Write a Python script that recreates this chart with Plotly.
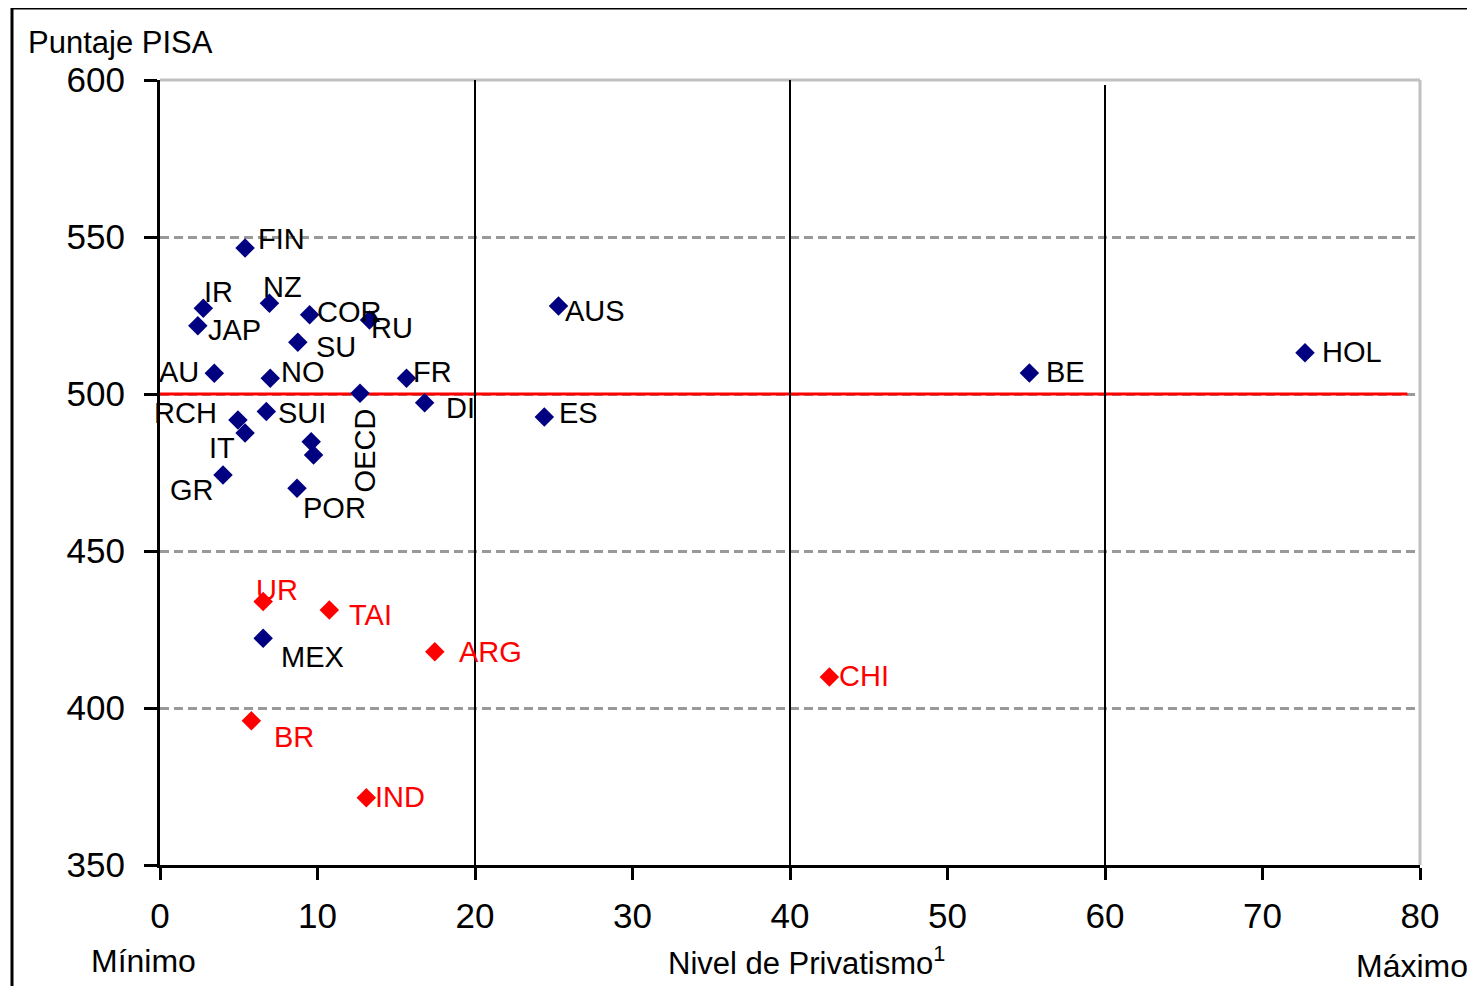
import plotly.graph_objects as go

# ---- data ----
blue_names = ["FIN", "IR", "NZ", "JAP", "COR", "RU", "SU", "AU", "NO", "FR", "OECD", "DI",
              "SUI", "RCH", "IT", "GR", "POR", "AUS", "ES", "BE", "HOL", "MEX", "", ""]
blue_x = [5.4, 2.75, 6.95, 2.4, 9.5, 13.3, 8.75, 3.45, 7.0, 15.65, 12.7, 16.8,
          6.75, 4.95, 5.4, 4.0, 8.7, 25.3, 24.4, 55.2, 72.7, 6.55, 9.6, 9.75]
blue_y = [546.5, 527.3, 528.9, 521.7, 525.2, 523.6, 516.5, 506.6, 505.0, 505.0, 500.2, 497.2,
          494.4, 491.7, 487.6, 474.2, 470.0, 528.0, 492.7, 506.7, 513.1, 422.2, 484.8, 480.6]

red_names = ["UR", "TAI", "ARG", "BR", "IND", "CHI"]
red_x = [6.55, 10.75, 17.45, 5.8, 13.1, 42.5]
red_y = [433.9, 431.2, 417.9, 395.9, 371.4, 409.9]

x_ticks = [0, 10, 20, 30, 40, 50, 60, 70, 80]
y_ticks = [350, 400, 450, 500, 550, 600]
divider_x = [20, 40, 60]
divider_top = [600, 600, 598.4]
reference_score = 500
reference_end = 79.2

# ---- label placement (xanchor, dx px, dy px down) ----
label_pos = {
    "FIN": ("left", 12, -9), "IR": ("center", 15, -16), "NZ": ("center", 13, -16),
    "JAP": ("left", 9, 4), "COR": ("left", 6, -3), "RU": ("left", 1, 8),
    "SU": ("left", 17, 5), "AU": ("right", -14, -1), "NO": ("left", 10, -6),
    "FR": ("left", 6, -6), "DI": ("left", 20, 5), "SUI": ("left", 11, 1),
    "RCH": ("right", -20, -7), "IT": ("center", -23, 15), "GR": ("right", -8, 15),
    "POR": ("left", 5, 20), "OECD": ("center", 5, 57), "AUS": ("left", 6, 5),
    "ES": ("left", 14, -4), "BE": ("left", 16, -1), "HOL": ("left", 16, -1),
    "MEX": ("left", 17, 19), "UR": ("left", -8, -12), "TAI": ("left", 19, 5),
    "ARG": ("left", 23, 0), "BR": ("left", 22, 16), "IND": ("left", 8, -1),
    "CHI": ("left", 9, -1),
}

FONT = "Liberation Sans, Arial, sans-serif"
NAVY = "#000080"
RED = "#FF0000"

fig = go.Figure()

# reference line at 500
fig.add_trace(go.Scatter(x=[0, reference_end], y=[reference_score, reference_score],
                         mode="lines", line=dict(color=RED, width=3),
                         hoverinfo="skip", showlegend=False))
# vertical dividers
for xv, top in zip(divider_x, divider_top):
    fig.add_trace(go.Scatter(x=[xv, xv], y=[350, top], mode="lines",
                             line=dict(color="black", width=2),
                             hoverinfo="skip", showlegend=False))

fig.add_trace(go.Scatter(x=blue_x, y=blue_y, mode="markers",
                         marker=dict(symbol="diamond", size=15, color=NAVY),
                         showlegend=False))
fig.add_trace(go.Scatter(x=red_x, y=red_y, mode="markers",
                         marker=dict(symbol="diamond", size=15, color=RED),
                         showlegend=False))

annotations = []
def add_labels(names, xs, ys, color):
    for n, xv, yv in zip(names, xs, ys):
        if not n:
            continue
        anc, dx, dy = label_pos[n]
        annotations.append(dict(
            x=xv, y=yv, xref="x", yref="y", text=n, showarrow=False,
            xanchor=anc, yanchor="middle", xshift=dx, yshift=-dy,
            textangle=-90 if n == "OECD" else 0, borderpad=0,
            font=dict(family=FONT, size=29, color=color)))

add_labels(blue_names, blue_x, blue_y, "black")
add_labels(red_names, red_x, red_y, RED)

# page offset (body margin of the html page)
OFF = 8
W, H = 1475 - OFF, 986 - OFF
L, R, T, B = 160 - OFF, 55, 80 - OFF, 121
pw, ph = W - L - R, H - T - B
def px2paper(px, py):
    # px, py are page pixels
    return (px - OFF - L) / pw, (H - B - (py - OFF)) / ph

page_texts = [
    ("Puntaje PISA", 27, 42, "left", 31),
    ("Mínimo", 143, 961, "center", 32),
    ("Nivel de Privatismo<sup>1</sup>", 807, 961, "center", 31),
    ("Máximo", 1412, 966, "center", 32),
]
for txt, px, py, anc, sz in page_texts:
    xp, yp = px2paper(px, py)
    annotations.append(dict(text=txt, x=xp, y=yp, xref="paper", yref="paper",
                            showarrow=False, xanchor=anc, yanchor="middle", borderpad=0,
                            font=dict(family=FONT, size=sz, color="black")))

# frame around the whole chart
fx0, fy0 = px2paper(12, 1000)
fx1, fy1 = px2paper(1495, 8)
shapes = [
    dict(type="rect", xref="paper", yref="paper", x0=fx0, y0=fy0, x1=fx1, y1=fy1,
         line=dict(color="black", width=3), layer="below"),
    dict(type="line", xref="paper", yref="paper", x0=0, x1=1, y0=1, y1=1,
         line=dict(color="#C0C0C0", width=3), layer="below"),
    dict(type="line", xref="paper", yref="paper", x0=1, x1=1, y0=0, y1=1,
         line=dict(color="#C0C0C0", width=3), layer="below"),
]

fig.update_layout(
    width=W, height=H, margin=dict(l=L, r=R, t=T, b=B),
    plot_bgcolor="white", paper_bgcolor="white",
    annotations=annotations, shapes=shapes, showlegend=False,
    xaxis=dict(range=[0, 80], tickvals=x_ticks, showgrid=False, zeroline=False,
               showline=True, linecolor="black", linewidth=3,
               ticks="outside", ticklen=12, tickwidth=3, tickcolor="black",
               ticklabelstandoff=6,
               tickfont=dict(family=FONT, size=35, color="black")),
    yaxis=dict(range=[350, 600], tickvals=y_ticks, showgrid=True, gridcolor="#999999",
               gridwidth=2.5, griddash="9px,5px", zeroline=False,
               showline=True, linecolor="black", linewidth=3,
               ticks="outside", ticklen=13, tickwidth=3, tickcolor="black",
               ticklabelstandoff=12,
               tickfont=dict(family=FONT, size=35, color="black")),
)

fig.write_html("out.html")
